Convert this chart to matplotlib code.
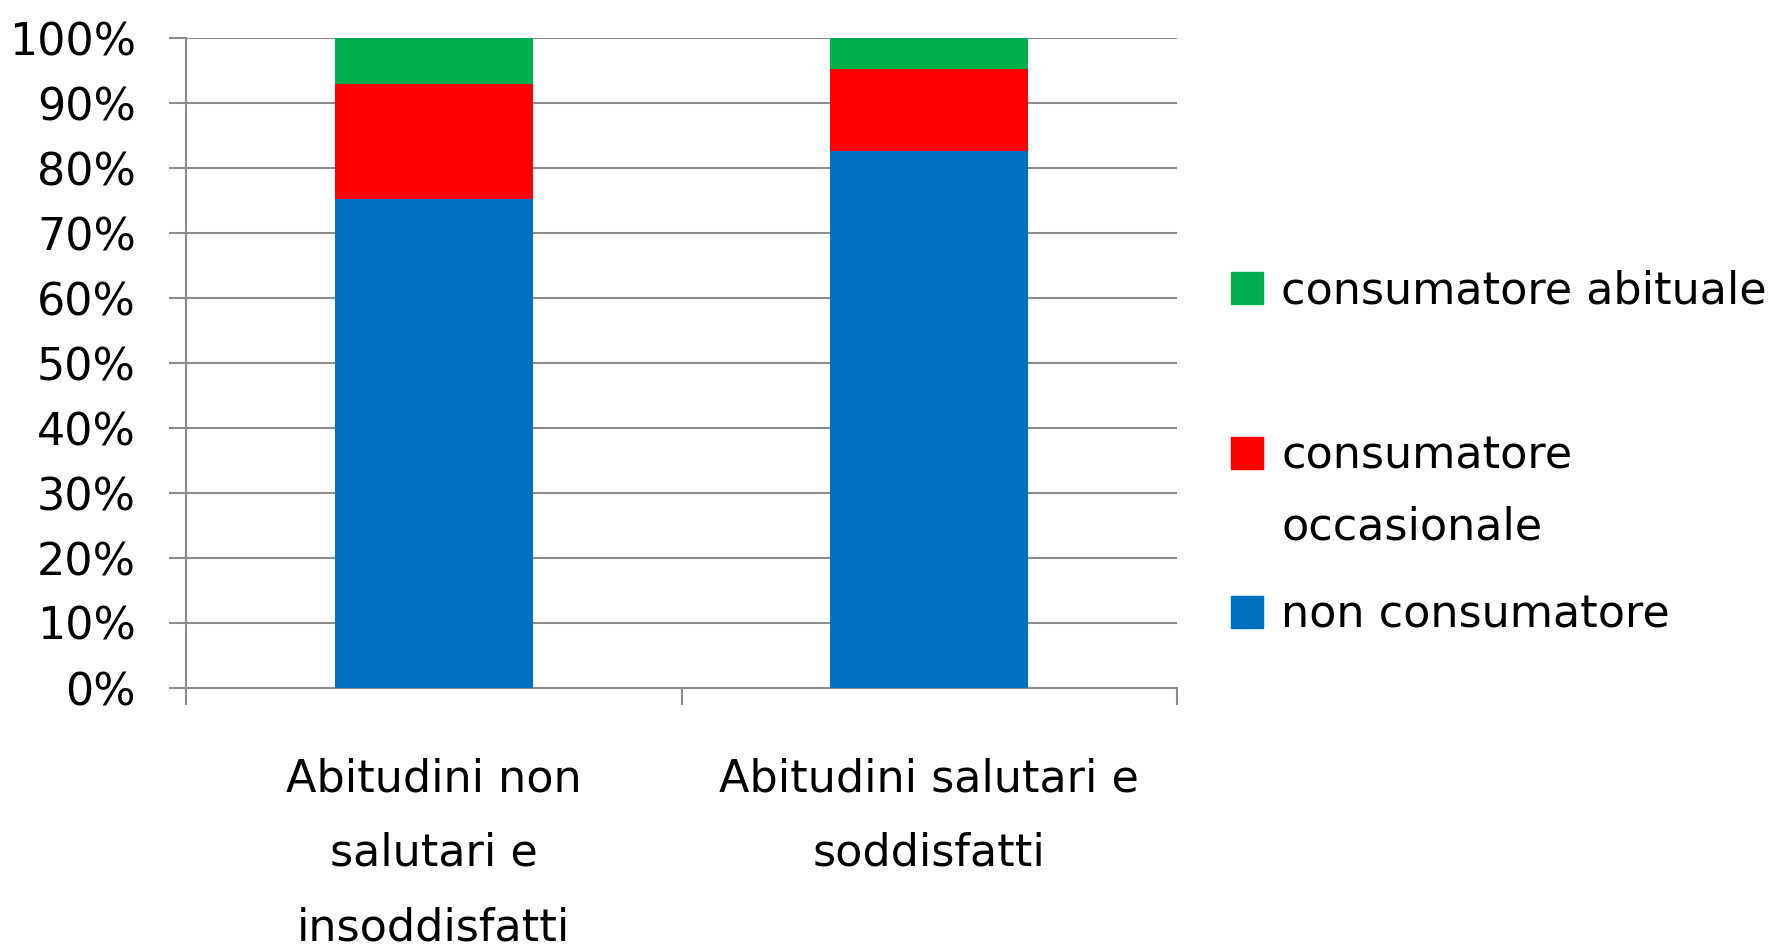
"""
plot.py
Stacked 100% bar chart: consumption habits by lifestyle group.
"""

import matplotlib
matplotlib.use("Agg")
import matplotlib.pyplot as plt
from matplotlib.patches import Rectangle
import numpy as np

# Data (percent of each group)
categories = ["Abitudini non\nsalutari e\ninsoddisfatti", "Abitudini salutari e\nsoddisfatti"]
non_consumatore = [75.3, 82.6]
occasionale = [17.7, 12.7]
abituale = [7.0, 4.7]
series_labels = ["non consumatore", "consumatore\noccasionale", "consumatore abituale"]
series_colors = ["#0070C0", "#FF0000", "#00B050"]
ytick_labels = [f"{v}%" for v in range(0, 101, 10)]

GRID = "#8c8c8c"
FS = 32
W, H = 1787, 947


def main():
    fig = plt.figure(figsize=(W / 100, H / 100), dpi=100)
    ax = fig.add_axes([186 / W, 1 - 688 / H, 991 / W, 650 / H])

    x = np.arange(len(categories))
    bottom = np.zeros(len(categories))
    for vals, col in zip([non_consumatore, occasionale, abituale], series_colors):
        ax.bar(x, vals, width=0.4, bottom=bottom, color=col, zorder=3)
        bottom += np.array(vals)

    ax.set_xlim(-0.5, 1.5)
    ax.set_ylim(0, 100)

    # y axis
    ax.set_yticks(np.arange(0, 101, 10))
    ax.set_yticklabels(ytick_labels)
    ax.yaxis.grid(True, color=GRID, linewidth=1.5, zorder=0)
    ax.tick_params(axis="y", length=12, width=1.5, color=GRID, pad=24, labelsize=FS)

    # x axis: labels centered under bars, separators as minor ticks
    ax.set_xticks(x)
    ax.set_xticklabels(categories, fontsize=FS, linespacing=1.92)
    ax.tick_params(axis="x", which="major", length=0, pad=50)
    ax.set_xticks([-0.5, 0.5, 1.5], minor=True)
    ax.tick_params(axis="x", which="minor", length=12, width=1.5, color=GRID)

    for side in ["top", "right"]:
        ax.spines[side].set_visible(False)
    for side in ["left", "bottom"]:
        ax.spines[side].set_color(GRID)
        ax.spines[side].set_linewidth(1.5)

    # Legend drawn by hand (square aligned with first line of each label)
    legend_y = [612, 453, 288]
    for lab, col, yc in zip(series_labels, series_colors, legend_y):
        fig.add_artist(Rectangle((1231 / W, 1 - (yc + 16) / H), 32 / W, 32 / H,
                                 transform=fig.transFigure, color=col))
        fig.text(1281 / W, 1 - (yc - 19) / H, lab, fontsize=FS, va="top",
                 linespacing=1.83)

    plt.savefig("out.png", dpi=100)
    plt.close()


if __name__ == "__main__":
    main()
